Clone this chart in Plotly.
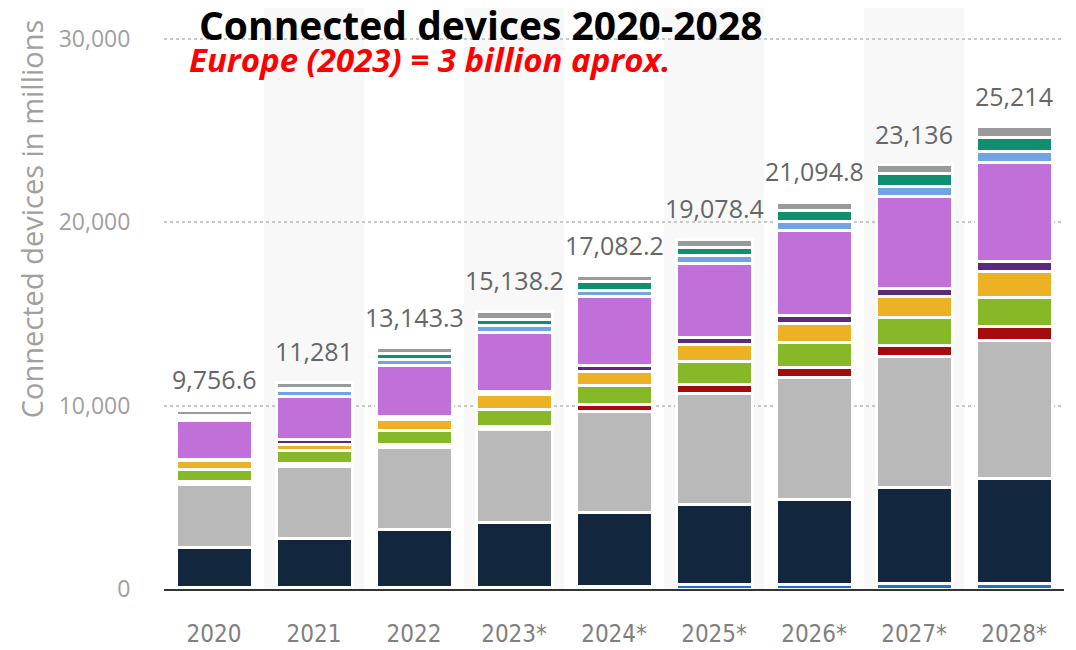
import plotly.graph_objects as go

years = ["2020", "2021", "2022", "2023*", "2024*", "2025*", "2026*", "2027*", "2028*"]
totals = [9756.6, 11281, 13143.3, 15138.2, 17082.2, 19078.4, 21094.8, 23136, 25214]
total_labels = ["9,756.6", "11,281", "13,143.3", "15,138.2", "17,082.2", "19,078.4", "21,094.8", "23,136", "25,214"]

# stacked segments, bottom -> top (values in millions)
seg_blue      = [55, 80, 80, 80, 110, 240, 260, 275, 290]
seg_navy      = [2200, 2690, 3155, 3560, 4046, 4345, 4630, 5280, 5710]
seg_lightgray = [3442, 3890, 4505, 5073, 5535, 6063, 6630, 7110, 7525]
seg_red       = [145, 165, 165, 145, 346, 510, 550, 605, 800]
seg_green     = [650, 730, 745, 925, 1043, 1225, 1375, 1540, 1585]
seg_orange    = [500, 330, 605, 795, 769, 935, 1045, 1155, 1420]
seg_darkpurp  = [95, 275, 165, 165, 346, 370, 440, 440, 525]
seg_purple    = [2105, 2350, 2765, 3250, 3750, 4070, 4625, 4971, 5399]
seg_lightblue = [125, 315, 330, 350, 346, 440, 495, 550, 600]
seg_teal      = [125, 110, 315, 345, 478, 440, 605, 715, 745]
seg_topgray   = [315, 345, 310, 450, 313, 440, 440, 495, 615]

series = [
    ("blue", seg_blue, "#1f6fd6"),
    ("navy", seg_navy, "#12263d"),
    ("lightgray", seg_lightgray, "#b9b9b9"),
    ("red", seg_red, "#a30d0d"),
    ("green", seg_green, "#86b828"),
    ("orange", seg_orange, "#ecb125"),
    ("darkpurple", seg_darkpurp, "#5c2a7a"),
    ("purple", seg_purple, "#c070d8"),
    ("lightblue", seg_lightblue, "#72a3e3"),
    ("teal", seg_teal, "#0f8f6e"),
    ("topgray", seg_topgray, "#9a9a9a"),
]

fig = go.Figure()
for name, vals, col in series:
    fig.add_trace(go.Bar(
        x=years, y=vals, name=name,
        marker=dict(color=col, line=dict(color="white", width=3)),
        hoverinfo="skip", showlegend=False,
    ))

stack_tops = [sum(s[1][i] for s in series) for i in range(len(years))]

shapes = []
for i, yr in enumerate(years):
    if i % 2 == 1:
        shapes.append(dict(type="rect", xref="x", yref="paper", x0=i - 0.5, x1=i + 0.5,
                           y0=0, y1=1.09, fillcolor="#f8f8f8", line=dict(width=0), layer="between"))

annotations = []
for i, yr in enumerate(years):
    annotations.append(dict(x=i, y=stack_tops[i], xref="x", yref="y", text=total_labels[i],
                            showarrow=False, yanchor="bottom", yshift=12,
                            font=dict(family="Open Sans", size=25, color="#666666")))

annotations.append(dict(x=-0.147, y=0.67, xref="paper", yref="paper",
                        xanchor="center", yanchor="middle",
                        text="Connected devices in millions", textangle=-90, showarrow=False,
                        font=dict(family="Open Sans", size=29, color="#a0a0a0")))
annotations.append(dict(x=0.352, y=1.02, xref="paper", yref="paper",
                        xanchor="center", yanchor="middle",
                        text="<b>Connected devices 2020-2028</b>", showarrow=False,
                        font=dict(family="Open Sans", size=39, color="black")))
annotations.append(dict(x=0.025, y=0.958, xref="paper", yref="paper",
                        xanchor="left", yanchor="middle",
                        text="<b><i>Europe (2023) = 3 billion aprox.</i></b>", showarrow=False,
                        font=dict(family="Open Sans", size=33, color="#ff0000")))

fig.update_layout(
    barmode="stack", bargap=0.24,
    width=1068, height=642,
    margin=dict(l=156, r=12, t=28, b=61),
    plot_bgcolor="rgba(0,0,0,0)", paper_bgcolor="white",
    shapes=shapes, annotations=annotations,
    xaxis=dict(type="category", automargin=False, showgrid=False, showline=True,
               linecolor="#333333", linewidth=2,
               ticks="outside", ticklen=22, tickcolor="rgba(0,0,0,0)",
               tickfont=dict(family="DejaVu Sans Condensed", size=24, color="#808080")),
    yaxis=dict(range=[0, 30150], automargin=False, tickvals=[0, 10000, 20000, 30000],
               ticktext=["0", "10,000", "20,000", "30,000"],
               showgrid=True, gridcolor="#c8c8c8", griddash="dot", gridwidth=1.5,
               zeroline=False, showline=False,
               ticks="outside", ticklen=28, tickcolor="rgba(0,0,0,0)",
               tickfont=dict(family="Open Sans", size=23, color="#a0a0a0")),
)

fig.write_html("out.html")
